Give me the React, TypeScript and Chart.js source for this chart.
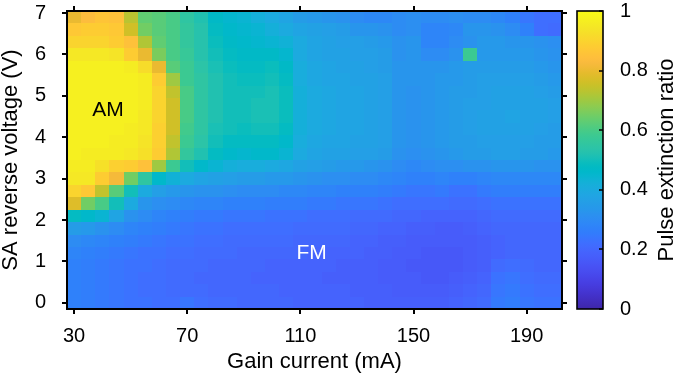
import React, { useEffect, useRef } from 'react';
import { Chart, registerables } from 'chart.js';

Chart.register(...registerables);

// ---------------- data ----------------
const gainCurrent = [30, 35, 40, 45, 50, 55, 60, 65, 70, 75, 80, 85, 90, 95, 100, 105, 110, 115, 120, 125, 130, 135, 140, 145, 150, 155, 160, 165, 170, 175, 180, 185, 190, 195, 200];
const saVoltage = [0, 0.3, 0.6, 0.9, 1.2, 1.5, 1.8, 2.1, 2.4, 2.7, 3.0, 3.3, 3.6, 3.9, 4.2, 4.5, 4.8, 5.1, 5.4, 5.7, 6.0, 6.3, 6.6, 6.9];

// one row per SA voltage (0 V first), one value per gain current
const extinctionRatio = [
  [0.27,0.26,0.25,0.24,0.23,0.23,0.22,0.22,0.24,0.22,0.21,0.21,0.20,0.20,0.20,0.20,0.19,0.19,0.19,0.19,0.19,0.18,0.18,0.18,0.18,0.18,0.18,0.19,0.20,0.21,0.25,0.26,0.24,0.23,0.23],
  [0.27,0.26,0.25,0.24,0.23,0.22,0.22,0.21,0.21,0.21,0.20,0.20,0.20,0.20,0.20,0.19,0.19,0.19,0.19,0.19,0.18,0.18,0.18,0.17,0.17,0.17,0.17,0.18,0.19,0.20,0.24,0.25,0.23,0.22,0.22],
  [0.27,0.26,0.25,0.24,0.23,0.22,0.22,0.21,0.21,0.20,0.20,0.20,0.20,0.19,0.19,0.19,0.19,0.19,0.18,0.18,0.18,0.18,0.17,0.17,0.17,0.16,0.16,0.17,0.18,0.19,0.23,0.24,0.22,0.21,0.21],
  [0.27,0.26,0.25,0.24,0.23,0.23,0.22,0.21,0.21,0.21,0.20,0.20,0.20,0.20,0.19,0.19,0.19,0.19,0.19,0.18,0.18,0.18,0.17,0.17,0.16,0.16,0.16,0.16,0.17,0.18,0.21,0.22,0.21,0.20,0.20],
  [0.28,0.27,0.26,0.25,0.24,0.23,0.23,0.22,0.22,0.21,0.21,0.21,0.20,0.20,0.20,0.20,0.20,0.19,0.19,0.19,0.19,0.18,0.18,0.17,0.17,0.16,0.16,0.16,0.17,0.18,0.19,0.20,0.20,0.20,0.20],
  [0.30,0.29,0.28,0.27,0.26,0.25,0.24,0.23,0.23,0.22,0.22,0.21,0.21,0.21,0.21,0.21,0.20,0.20,0.20,0.20,0.19,0.19,0.18,0.18,0.17,0.17,0.17,0.17,0.17,0.18,0.19,0.20,0.20,0.20,0.20],
  [0.35,0.34,0.32,0.30,0.28,0.27,0.26,0.25,0.24,0.23,0.23,0.22,0.22,0.22,0.22,0.22,0.21,0.21,0.21,0.21,0.20,0.20,0.19,0.19,0.18,0.18,0.17,0.17,0.18,0.19,0.20,0.20,0.20,0.20,0.20],
  [0.48,0.46,0.44,0.38,0.32,0.30,0.28,0.27,0.26,0.25,0.25,0.24,0.24,0.24,0.23,0.23,0.23,0.22,0.22,0.22,0.21,0.21,0.21,0.20,0.20,0.19,0.19,0.19,0.19,0.20,0.21,0.21,0.21,0.21,0.21],
  [0.78,0.65,0.60,0.50,0.40,0.33,0.31,0.30,0.29,0.28,0.28,0.27,0.27,0.27,0.26,0.26,0.26,0.25,0.25,0.24,0.24,0.24,0.23,0.22,0.22,0.22,0.22,0.21,0.21,0.22,0.23,0.23,0.23,0.23,0.23],
  [0.90,0.87,0.74,0.62,0.50,0.40,0.36,0.34,0.33,0.32,0.32,0.31,0.30,0.30,0.30,0.29,0.29,0.28,0.28,0.27,0.27,0.27,0.26,0.25,0.24,0.24,0.25,0.23,0.23,0.25,0.26,0.26,0.26,0.26,0.26],
  [0.95,0.95,0.88,0.82,0.65,0.55,0.46,0.43,0.40,0.38,0.37,0.36,0.35,0.35,0.34,0.34,0.33,0.32,0.31,0.31,0.30,0.30,0.29,0.28,0.27,0.27,0.28,0.27,0.27,0.28,0.29,0.29,0.29,0.29,0.29],
  [0.96,0.96,0.93,0.89,0.88,0.85,0.70,0.58,0.50,0.46,0.44,0.42,0.41,0.41,0.40,0.39,0.37,0.36,0.35,0.34,0.34,0.33,0.32,0.30,0.29,0.30,0.31,0.31,0.32,0.32,0.33,0.33,0.33,0.32,0.32],
  [0.97,0.96,0.96,0.96,0.95,0.93,0.88,0.72,0.56,0.52,0.48,0.46,0.45,0.46,0.46,0.44,0.40,0.38,0.37,0.37,0.36,0.36,0.35,0.32,0.31,0.32,0.33,0.34,0.35,0.35,0.36,0.36,0.35,0.35,0.34],
  [0.97,0.97,0.97,0.96,0.96,0.94,0.89,0.74,0.58,0.54,0.50,0.48,0.48,0.48,0.48,0.46,0.41,0.39,0.38,0.38,0.37,0.37,0.36,0.33,0.32,0.33,0.34,0.35,0.35,0.36,0.36,0.36,0.36,0.35,0.35],
  [0.97,0.97,0.97,0.97,0.96,0.95,0.89,0.76,0.59,0.55,0.51,0.50,0.49,0.50,0.50,0.48,0.42,0.40,0.39,0.38,0.38,0.37,0.36,0.33,0.32,0.33,0.34,0.35,0.36,0.37,0.37,0.37,0.37,0.36,0.35],
  [0.97,0.97,0.97,0.97,0.97,0.95,0.90,0.76,0.60,0.55,0.52,0.50,0.50,0.51,0.51,0.49,0.42,0.40,0.39,0.38,0.38,0.37,0.36,0.33,0.32,0.33,0.34,0.35,0.36,0.37,0.37,0.38,0.37,0.37,0.36],
  [0.97,0.97,0.97,0.97,0.97,0.96,0.90,0.76,0.60,0.55,0.52,0.50,0.50,0.51,0.51,0.49,0.42,0.40,0.39,0.38,0.38,0.37,0.36,0.33,0.32,0.33,0.34,0.35,0.36,0.36,0.37,0.37,0.37,0.37,0.36],
  [0.97,0.97,0.97,0.97,0.97,0.96,0.90,0.74,0.60,0.55,0.52,0.50,0.50,0.50,0.51,0.49,0.42,0.40,0.39,0.38,0.38,0.37,0.36,0.33,0.32,0.33,0.34,0.35,0.35,0.36,0.37,0.37,0.37,0.36,0.35],
  [0.97,0.97,0.97,0.97,0.97,0.96,0.88,0.70,0.58,0.55,0.52,0.50,0.49,0.49,0.50,0.48,0.41,0.39,0.38,0.38,0.37,0.37,0.36,0.33,0.33,0.33,0.34,0.34,0.35,0.36,0.36,0.36,0.36,0.35,0.34],
  [0.97,0.97,0.97,0.97,0.96,0.92,0.80,0.62,0.58,0.54,0.51,0.49,0.48,0.48,0.49,0.47,0.41,0.39,0.38,0.37,0.37,0.36,0.35,0.33,0.33,0.33,0.33,0.34,0.35,0.35,0.35,0.35,0.35,0.34,0.33],
  [0.95,0.95,0.95,0.94,0.88,0.80,0.66,0.60,0.57,0.53,0.50,0.48,0.47,0.47,0.47,0.45,0.40,0.38,0.37,0.37,0.36,0.36,0.35,0.32,0.33,0.30,0.30,0.32,0.58,0.34,0.34,0.34,0.34,0.33,0.32],
  [0.90,0.90,0.90,0.88,0.85,0.72,0.63,0.60,0.56,0.53,0.49,0.47,0.46,0.45,0.44,0.43,0.40,0.38,0.37,0.36,0.36,0.35,0.34,0.32,0.33,0.28,0.28,0.30,0.32,0.34,0.34,0.33,0.33,0.32,0.31],
  [0.87,0.88,0.88,0.87,0.76,0.65,0.62,0.60,0.56,0.53,0.48,0.46,0.45,0.44,0.42,0.40,0.38,0.37,0.36,0.35,0.33,0.33,0.32,0.30,0.31,0.28,0.28,0.29,0.33,0.33,0.32,0.30,0.27,0.22,0.21],
  [0.80,0.84,0.86,0.85,0.73,0.63,0.62,0.60,0.55,0.52,0.47,0.45,0.44,0.42,0.40,0.38,0.35,0.34,0.33,0.32,0.30,0.29,0.29,0.30,0.31,0.30,0.30,0.31,0.30,0.30,0.29,0.27,0.24,0.22,0.22],
];

const xTickValues = [30, 70, 110, 150, 190];
const yTickValues = [0, 1, 2, 3, 4, 5, 6, 7];
const cbTickValues = [0, 0.2, 0.4, 0.6, 0.8, 1];
const cbTickLabels = ['0', '0.2', '0.4', '0.6', '0.8', '1'];

const xTitle = 'Gain current (mA)';
const yTitle = 'SA reverse voltage (V)';
const cbTitle = 'Pulse extinction ratio';
const regionLabels = [
  { text: 'AM', x: 42, y: 4.65, color: '#000000' },
  { text: 'FM', x: 114, y: 1.2, color: '#ffffff' },
];

// ---------------- style ----------------
const FONT = '"Liberation Sans", Arial, Helvetica, sans-serif';

const PARULA = [
  [0.2422,0.1504,0.6603],[0.2504,0.1650,0.7076],[0.2578,0.1818,0.7511],[0.2647,0.1978,0.7952],
  [0.2706,0.2147,0.8364],[0.2751,0.2342,0.8710],[0.2783,0.2559,0.8991],[0.2803,0.2782,0.9221],
  [0.2813,0.3006,0.9414],[0.2810,0.3228,0.9579],[0.2795,0.3447,0.9717],[0.2760,0.3667,0.9829],
  [0.2699,0.3892,0.9906],[0.2602,0.4123,0.9952],[0.2440,0.4358,0.9988],[0.2206,0.4603,0.9973],
  [0.1963,0.4847,0.9892],[0.1834,0.5074,0.9798],[0.1786,0.5289,0.9682],[0.1764,0.5499,0.9520],
  [0.1687,0.5703,0.9359],[0.1540,0.5902,0.9218],[0.1460,0.6091,0.9079],[0.1380,0.6276,0.8973],
  [0.1248,0.6459,0.8883],[0.1113,0.6635,0.8763],[0.0952,0.6798,0.8598],[0.0689,0.6948,0.8394],
  [0.0297,0.7082,0.8163],[0.0036,0.7203,0.7917],[0.0067,0.7312,0.7660],[0.0433,0.7411,0.7394],
  [0.0964,0.7500,0.7120],[0.1408,0.7584,0.6842],[0.1717,0.7670,0.6554],[0.1938,0.7758,0.6251],
  [0.2161,0.7843,0.5923],[0.2470,0.7918,0.5567],[0.2906,0.7973,0.5188],[0.3406,0.8008,0.4789],
  [0.3909,0.8029,0.4354],[0.4456,0.8024,0.3909],[0.5044,0.7993,0.3480],[0.5616,0.7942,0.3045],
  [0.6174,0.7876,0.2612],[0.6720,0.7793,0.2227],[0.7242,0.7698,0.1910],[0.7738,0.7598,0.1646],
  [0.8203,0.7498,0.1535],[0.8634,0.7406,0.1596],[0.9035,0.7330,0.1774],[0.9393,0.7288,0.2100],
  [0.9728,0.7298,0.2394],[0.9956,0.7434,0.2371],[0.9970,0.7659,0.2199],[0.9952,0.7893,0.2028],
  [0.9892,0.8136,0.1885],[0.9786,0.8386,0.1766],[0.9676,0.8639,0.1643],[0.9610,0.8890,0.1537],
  [0.9597,0.9135,0.1423],[0.9628,0.9373,0.1265],[0.9691,0.9606,0.1064],[0.9769,0.9839,0.0805],
];

function rgbOf(c: number[]) {
  return `rgb(${Math.round(c[0] * 255)},${Math.round(c[1] * 255)},${Math.round(c[2] * 255)})`;
}

function parula(v: number) {
  const t = Math.max(0, Math.min(1, v)) * (PARULA.length - 1);
  const i = Math.floor(t);
  const f = t - i;
  const a = PARULA[i];
  const b = PARULA[Math.min(i + 1, PARULA.length - 1)];
  return rgbOf([a[0] + (b[0] - a[0]) * f, a[1] + (b[1] - a[1]) * f, a[2] + (b[2] - a[2]) * f]);
}

const xHalf = (gainCurrent[1] - gainCurrent[0]) / 2;
const yHalf = (saVoltage[1] - saVoltage[0]) / 2;

const heatmapPlugin = {
  id: 'heatmap',
  beforeDatasetsDraw(chart: any) {
    const { ctx, chartArea } = chart;
    const xs = chart.scales.x;
    const ys = chart.scales.y;
    ctx.save();
    ctx.beginPath();
    ctx.rect(chartArea.left, chartArea.top, chartArea.right - chartArea.left, chartArea.bottom - chartArea.top);
    ctx.clip();
    for (const p of chart.data.datasets[0].data as any[]) {
      const l = Math.round(xs.getPixelForValue(p.x - xHalf));
      const r = Math.round(xs.getPixelForValue(p.x + xHalf));
      const t = Math.round(ys.getPixelForValue(p.y + yHalf));
      const b = Math.round(ys.getPixelForValue(p.y - yHalf));
      ctx.fillStyle = parula(p.v);
      ctx.fillRect(l, t, r - l, b - t);
    }
    ctx.restore();
  },
  afterDatasetsDraw(chart: any) {
    const { ctx, chartArea } = chart;
    const { left, right, top, bottom } = chartArea;
    const xs = chart.scales.x;
    const ys = chart.scales.y;
    const cb = chart.scales.cb;
    ctx.save();

    // region labels
    ctx.font = `21px ${FONT}`;
    ctx.textAlign = 'center';
    ctx.textBaseline = 'middle';
    for (const lab of regionLabels) {
      ctx.fillStyle = lab.color;
      ctx.fillText(lab.text, xs.getPixelForValue(lab.x), ys.getPixelForValue(lab.y));
    }

    // frame and ticks
    ctx.strokeStyle = '#000';
    ctx.lineWidth = 2;
    ctx.strokeRect(left, top, right - left, bottom - top);
    ctx.beginPath();
    for (const v of xTickValues) {
      const px = Math.round(xs.getPixelForValue(v));
      ctx.moveTo(px, top); ctx.lineTo(px, top - 5);
      ctx.moveTo(px, bottom); ctx.lineTo(px, bottom + 5);
    }
    for (const v of yTickValues) {
      const py = Math.round(ys.getPixelForValue(v));
      ctx.moveTo(left, py); ctx.lineTo(left - 5, py);
      ctx.moveTo(right, py); ctx.lineTo(right + 5, py);
    }
    ctx.stroke();

    // colorbar
    const cbL = right + 15;
    const cbR = right + 41;
    const y0 = cb.getPixelForValue(0);
    const y1 = cb.getPixelForValue(1);
    const grad = ctx.createLinearGradient(0, y0, 0, y1);
    PARULA.forEach((c, i) => grad.addColorStop(i / (PARULA.length - 1), rgbOf(c)));
    ctx.fillStyle = grad;
    ctx.fillRect(cbL, y1, cbR - cbL, y0 - y1);
    ctx.lineWidth = 1.6;
    ctx.strokeRect(cbL, y1, cbR - cbL, y0 - y1);
    ctx.beginPath();
    for (const v of cbTickValues) {
      const py = Math.round(cb.getPixelForValue(v));
      ctx.moveTo(cbR, py); ctx.lineTo(cbR - 4, py);
    }
    ctx.stroke();

    // colorbar title
    ctx.fillStyle = '#000';
    ctx.font = `22px ${FONT}`;
    ctx.translate(right + 104.5, (y0 + y1) / 2);
    ctx.rotate(-Math.PI / 2);
    ctx.textAlign = 'center';
    ctx.textBaseline = 'middle';
    ctx.fillText(cbTitle, 0, 0);
    ctx.restore();
  },
};

const noVerticalOverhang = (s: any) => { s.paddingTop = 0; s.paddingBottom = 0; };

export default function App() {
  const ref = useRef<HTMLCanvasElement>(null);

  useEffect(() => {
    if (!ref.current) return;
    Chart.defaults.font.family = FONT;
    Chart.defaults.color = '#000';

    const cells: any[] = [];
    saVoltage.forEach((v, i) => {
      gainCurrent.forEach((g, j) => {
        cells.push({ x: g, y: v, v: extinctionRatio[i][j] });
      });
    });

    const chart = new Chart(ref.current, {
      type: 'scatter',
      data: {
        datasets: [{ data: cells, pointRadius: 0, pointHoverRadius: 0, showLine: false }],
      },
      options: {
        animation: false,
        responsive: false,
        devicePixelRatio: 1,
        events: [],
        layout: { padding: { top: 11, left: 0, right: 0, bottom: 0 } },
        plugins: { legend: { display: false }, tooltip: { enabled: false } },
        scales: {
          x: {
            type: 'linear',
            position: 'bottom',
            min: gainCurrent[0] - xHalf,
            max: gainCurrent[gainCurrent.length - 1] + xHalf,
            grid: { display: false },
            border: { display: false },
            afterBuildTicks: (s: any) => { s.ticks = xTickValues.map((v) => ({ value: v })); },
            ticks: { padding: 7, font: { size: 20 }, color: '#000', autoSkip: false, maxRotation: 0, callback: (v: any) => String(v) },
            title: { display: true, text: xTitle, color: '#000', font: { size: 22, lineHeight: 1 }, padding: { top: 0, bottom: 9 } },
            afterFit: (s: any) => { s.height = 73; s.paddingLeft = 0; s.paddingRight = 0; },
          },
          y: {
            type: 'linear',
            position: 'left',
            min: saVoltage[0] - yHalf,
            max: saVoltage[saVoltage.length - 1] + yHalf,
            grid: { display: false },
            border: { display: false },
            afterBuildTicks: (s: any) => { s.ticks = yTickValues.map((v) => ({ value: v })); },
            ticks: { padding: 13, font: { size: 20 }, color: '#000', autoSkip: false, callback: (v: any) => String(v) },
            title: { display: true, text: yTitle, color: '#000', font: { size: 22, lineHeight: 1 }, padding: { top: 0, bottom: 0 } },
            afterFit: (s: any) => { s.width = 67; noVerticalOverhang(s); },
          },
          cb: {
            type: 'linear',
            position: 'right',
            min: 0,
            max: 1,
            grid: { display: false },
            border: { display: false },
            afterBuildTicks: (s: any) => { s.ticks = cbTickValues.map((v) => ({ value: v })); },
            ticks: { padding: 50, font: { size: 20 }, color: '#000', autoSkip: false, callback: (_v: any, i: number) => cbTickLabels[i] },
            afterFit: (s: any) => { s.width = 123; noVerticalOverhang(s); },
          },
        },
      } as any,
      plugins: [heatmapPlugin],
    });
    return () => chart.destroy();
  }, []);

  return (
    <div style={{ position: 'absolute', left: 0, top: 0, width: 685, height: 382, background: '#fff' }}>
      <canvas ref={ref} width={685} height={382} style={{ display: 'block', width: 685, height: 382 }} />
    </div>
  );
}
